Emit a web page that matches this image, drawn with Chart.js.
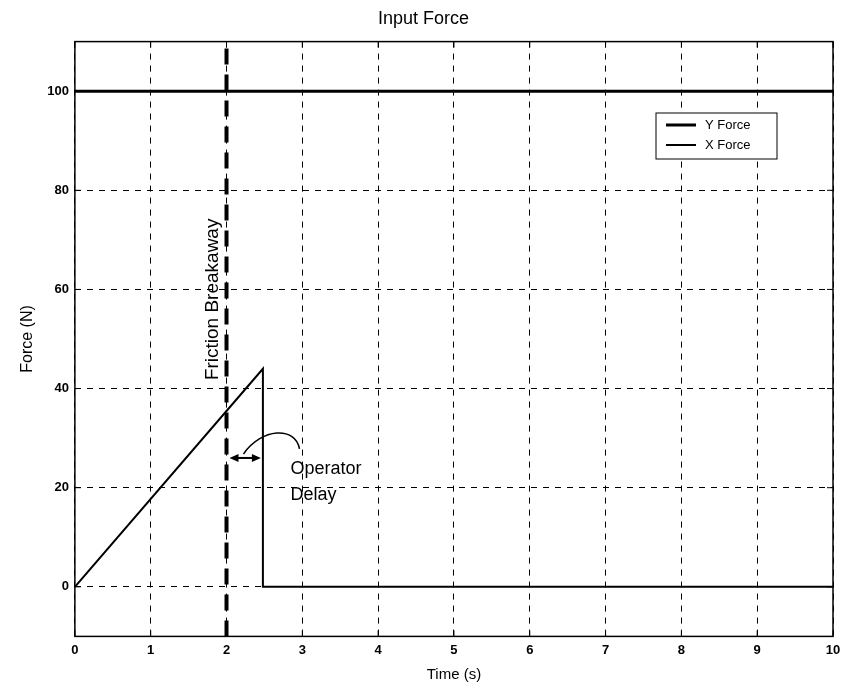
<!DOCTYPE html>
<html>
<head>
<meta charset="utf-8">
<script src="https://cdn.jsdelivr.net/npm/chart.js@4/dist/chart.umd.min.js"></script>
<style>
  body { margin: 0; background: #fff; }
  #wrap { width: 849px; height: 685px; }
</style>
</head>
<body>
<div id="wrap"><canvas id="c" width="849" height="685"></canvas></div>
<script>
// data
const yForceTime = [0, 10];
const yForceVal = [100, 100];
const xForceTime = [0, 2.48, 2.48, 10];
const xForceVal = [0, 44, 0, 0];
const breakawayTime = 2;
const delayEnd = 2.48;
const arrowForce = 26;
const yTicks = [0, 20, 40, 60, 80, 100];
const xTicks = [0, 1, 2, 3, 4, 5, 6, 7, 8, 9, 10];

const toPts = (xs, ys) => xs.map((x, i) => ({ x: x, y: ys[i] }));

const FONT = '"Liberation Sans", Arial, sans-serif';

function arrowHead(ctx, x, y, dir) {
  ctx.beginPath();
  ctx.moveTo(x, y);
  ctx.lineTo(x + dir * 9, y - 4);
  ctx.lineTo(x + dir * 9, y + 4);
  ctx.closePath();
  ctx.fill();
}

const overlay = {
  id: 'overlay',
  afterDatasetsDraw(chart) {
    const ctx = chart.ctx;
    const xs = chart.scales.x, ys = chart.scales.y;
    const a = chart.chartArea;
    ctx.save();
    // frame
    ctx.strokeStyle = '#000';
    ctx.lineWidth = 1.5;
    ctx.strokeRect(a.left, a.top, a.right - a.left, a.bottom - a.top);
    // inward ticks
    ctx.lineWidth = 1;
    ctx.beginPath();
    xTicks.forEach(v => {
      const px = xs.getPixelForValue(v);
      ctx.moveTo(px, a.bottom); ctx.lineTo(px, a.bottom - 6);
      ctx.moveTo(px, a.top); ctx.lineTo(px, a.top + 6);
    });
    yTicks.forEach(v => {
      const py = ys.getPixelForValue(v);
      ctx.moveTo(a.left, py); ctx.lineTo(a.left + 6, py);
      ctx.moveTo(a.right, py); ctx.lineTo(a.right - 6, py);
    });
    ctx.stroke();

    // friction breakaway line
    const bx = xs.getPixelForValue(breakawayTime);
    ctx.setLineDash([16, 10]);
    ctx.lineWidth = 4;
    ctx.beginPath();
    ctx.moveTo(bx, a.bottom);
    ctx.lineTo(bx, a.top);
    ctx.stroke();
    ctx.setLineDash([]);

    // label
    ctx.save();
    ctx.translate(bx - 14, ys.getPixelForValue(58));
    ctx.rotate(-Math.PI / 2);
    ctx.fillStyle = '#000';
    ctx.font = '19px ' + FONT;
    ctx.textAlign = 'center';
    ctx.textBaseline = 'middle';
    ctx.fillText('Friction Breakaway', 0, 0);
    ctx.restore();

    // operator delay double arrow
    const ax1 = bx + 3, ax2 = xs.getPixelForValue(delayEnd) - 2;
    const ay = ys.getPixelForValue(arrowForce);
    ctx.lineWidth = 2;
    ctx.fillStyle = '#000';
    ctx.beginPath();
    ctx.moveTo(ax1 + 6, ay); ctx.lineTo(ax2 - 6, ay);
    ctx.stroke();
    arrowHead(ctx, ax1, ay, 1);
    arrowHead(ctx, ax2, ay, -1);
    // curved pointer
    ctx.lineWidth = 1.5;
    ctx.beginPath();
    ctx.moveTo(ax1 + 14, ay - 4);
    ctx.bezierCurveTo(ax1 + 32, ay - 30, ax1 + 66, ay - 32, ax1 + 70, ay - 9);
    ctx.stroke();
    ctx.font = '18px ' + FONT;
    ctx.textAlign = 'left';
    ctx.textBaseline = 'middle';
    ctx.fillText('Operator', ax1 + 61, ay + 11);
    ctx.fillText('Delay', ax1 + 61, ay + 37);

    // legend box
    const lx = 656, ly = 113, lw = 121, lh = 46;
    ctx.fillStyle = '#fff';
    ctx.fillRect(lx, ly, lw, lh);
    ctx.lineWidth = 1;
    ctx.strokeRect(lx, ly, lw, lh);
    ctx.fillStyle = '#000';
    ctx.font = '13px ' + FONT;
    chart.data.datasets.forEach((ds, i) => {
      const yy = ly + 12 + i * 20;
      ctx.lineWidth = ds.borderWidth;
      ctx.beginPath();
      ctx.moveTo(lx + 10, yy); ctx.lineTo(lx + 40, yy);
      ctx.stroke();
      ctx.fillText(ds.label, lx + 49, yy);
    });
    ctx.restore();
  }
};

new Chart(document.getElementById('c'), {
  type: 'line',
  data: {
    datasets: [
      { label: 'Y Force', data: toPts(yForceTime, yForceVal), borderColor: '#000', borderWidth: 3, pointRadius: 0, tension: 0 },
      { label: 'X Force', data: toPts(xForceTime, xForceVal), borderColor: '#000', borderWidth: 2, pointRadius: 0, tension: 0 }
    ]
  },
  options: {
    responsive: false,
    animation: false,
    layout: { padding: { left: 14, right: 16, top: 0, bottom: 0 } },
    plugins: {
      legend: { display: false },
      tooltip: { enabled: false },
      title: {
        display: true, text: 'Input Force', color: '#000',
        font: { family: FONT, size: 18, weight: 'normal' },
        padding: { top: 8, bottom: 12 }
      }
    },
    scales: {
      x: {
        type: 'linear', min: 0, max: 10,
        afterBuildTicks: s => { s.ticks = xTicks.map(v => ({ value: v })); },
        grid: { color: '#000', lineWidth: 1, drawTicks: false },
        border: { display: false, dash: [6, 6] },
        ticks: { color: '#000', font: { family: FONT, size: 13, weight: 'bold' }, padding: 6, maxRotation: 0 },
        title: { display: true, text: 'Time (s)', color: '#000', font: { family: FONT, size: 15 }, padding: { top: 2, bottom: 1 } }
      },
      y: {
        min: -10, max: 110,
        afterBuildTicks: s => { s.ticks = yTicks.map(v => ({ value: v })); },
        grid: { color: '#000', lineWidth: 1, drawTicks: false },
        border: { display: false, dash: [6, 6] },
        ticks: { color: '#000', font: { family: FONT, size: 13, weight: 'bold' }, padding: 6 },
        title: { display: true, text: 'Force (N)', color: '#000', font: { family: FONT, size: 16 }, padding: { bottom: 4 } }
      }
    }
  },
  plugins: [overlay]
});
</script>
</body>
</html>
